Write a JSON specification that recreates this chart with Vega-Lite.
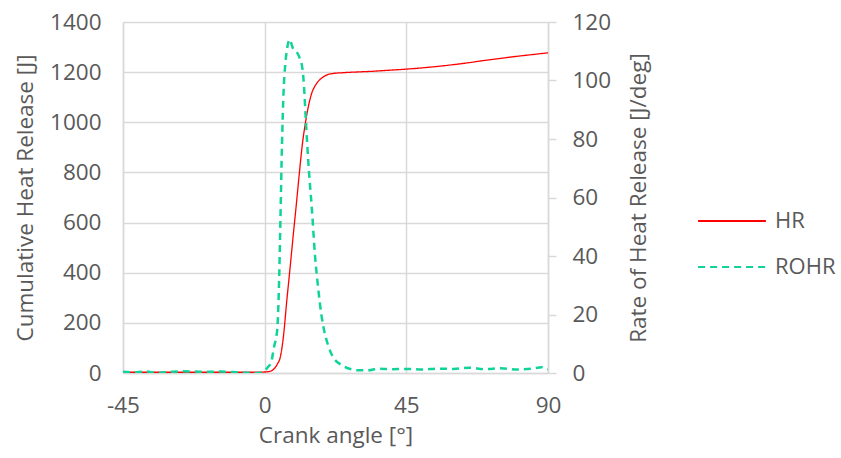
{
  "$schema": "https://vega.github.io/schema/vega-lite/v6.json",
  "width": 425,
  "height": 351,
  "autosize": {"type": "none"},
  "padding": {"left": 123, "top": 22, "right": 293, "bottom": 85},
  "background": "white",
  "config": {
    "font": "Open Sans",
    "view": {"stroke": null},
    "axis": {
      "labelFont": "Open Sans",
      "titleFont": "Open Sans",
      "labelFontSize": 22.5,
      "titleFontSize": 22.5,
      "labelColor": "#595959",
      "titleColor": "#595959",
      "titleFontWeight": "normal",
      "domainColor": "#d9d9d9",
      "domainWidth": 1.5,
      "gridColor": "#d9d9d9",
      "gridWidth": 1.5,
      "tickColor": "#d9d9d9",
      "tickWidth": 1.5
    },
    "legend": {
      "labelFont": "Open Sans",
      "labelFontSize": 22,
      "labelColor": "#595959"
    }
  },
  "data": {
    "values": [
      {"angle": -45, "value": 3, "series": "HR"},
      {"angle": -30, "value": 3, "series": "HR"},
      {"angle": -15, "value": 3, "series": "HR"},
      {"angle": -5, "value": 3, "series": "HR"},
      {"angle": 0, "value": 4, "series": "HR"},
      {"angle": 1, "value": 5, "series": "HR"},
      {"angle": 2, "value": 8, "series": "HR"},
      {"angle": 3, "value": 17, "series": "HR"},
      {"angle": 4, "value": 35, "series": "HR"},
      {"angle": 5, "value": 65, "series": "HR"},
      {"angle": 6, "value": 150, "series": "HR"},
      {"angle": 7, "value": 285, "series": "HR"},
      {"angle": 8, "value": 410, "series": "HR"},
      {"angle": 9, "value": 540, "series": "HR"},
      {"angle": 10, "value": 665, "series": "HR"},
      {"angle": 11, "value": 795, "series": "HR"},
      {"angle": 12, "value": 915, "series": "HR"},
      {"angle": 13, "value": 1002, "series": "HR"},
      {"angle": 14, "value": 1070, "series": "HR"},
      {"angle": 15, "value": 1118, "series": "HR"},
      {"angle": 16, "value": 1145, "series": "HR"},
      {"angle": 17, "value": 1163, "series": "HR"},
      {"angle": 18, "value": 1175, "series": "HR"},
      {"angle": 19, "value": 1184, "series": "HR"},
      {"angle": 20, "value": 1190, "series": "HR"},
      {"angle": 22, "value": 1195, "series": "HR"},
      {"angle": 25, "value": 1198, "series": "HR"},
      {"angle": 30, "value": 1201, "series": "HR"},
      {"angle": 35, "value": 1204, "series": "HR"},
      {"angle": 40, "value": 1208, "series": "HR"},
      {"angle": 45, "value": 1212, "series": "HR"},
      {"angle": 50, "value": 1217, "series": "HR"},
      {"angle": 55, "value": 1223, "series": "HR"},
      {"angle": 60, "value": 1230, "series": "HR"},
      {"angle": 65, "value": 1238, "series": "HR"},
      {"angle": 70, "value": 1247, "series": "HR"},
      {"angle": 75, "value": 1255, "series": "HR"},
      {"angle": 80, "value": 1263, "series": "HR"},
      {"angle": 85, "value": 1270, "series": "HR"},
      {"angle": 90, "value": 1277, "series": "HR"},
      {"angle": -45, "value": 0.4, "series": "ROHR"},
      {"angle": -42, "value": 0.2, "series": "ROHR"},
      {"angle": -38, "value": 0.5, "series": "ROHR"},
      {"angle": -34, "value": 0.1, "series": "ROHR"},
      {"angle": -30, "value": 0.4, "series": "ROHR"},
      {"angle": -26, "value": 0.6, "series": "ROHR"},
      {"angle": -22, "value": 0.5, "series": "ROHR"},
      {"angle": -18, "value": 0.4, "series": "ROHR"},
      {"angle": -14, "value": 0.5, "series": "ROHR"},
      {"angle": -10, "value": 0.3, "series": "ROHR"},
      {"angle": -6, "value": 0.1, "series": "ROHR"},
      {"angle": -3, "value": 0.0, "series": "ROHR"},
      {"angle": -1, "value": 0.2, "series": "ROHR"},
      {"angle": 0, "value": 0.8, "series": "ROHR"},
      {"angle": 1, "value": 2, "series": "ROHR"},
      {"angle": 2, "value": 3.5, "series": "ROHR"},
      {"angle": 3, "value": 9, "series": "ROHR"},
      {"angle": 4, "value": 15, "series": "ROHR"},
      {"angle": 4.5, "value": 28, "series": "ROHR"},
      {"angle": 5, "value": 52, "series": "ROHR"},
      {"angle": 5.5, "value": 78, "series": "ROHR"},
      {"angle": 6, "value": 96, "series": "ROHR"},
      {"angle": 6.5, "value": 105, "series": "ROHR"},
      {"angle": 7, "value": 110, "series": "ROHR"},
      {"angle": 7.5, "value": 113, "series": "ROHR"},
      {"angle": 8, "value": 114, "series": "ROHR"},
      {"angle": 8.5, "value": 112.5, "series": "ROHR"},
      {"angle": 9, "value": 111, "series": "ROHR"},
      {"angle": 10, "value": 110, "series": "ROHR"},
      {"angle": 11, "value": 108, "series": "ROHR"},
      {"angle": 12, "value": 104, "series": "ROHR"},
      {"angle": 12.5, "value": 98, "series": "ROHR"},
      {"angle": 13, "value": 88, "series": "ROHR"},
      {"angle": 14, "value": 70, "series": "ROHR"},
      {"angle": 15, "value": 56, "series": "ROHR"},
      {"angle": 16, "value": 40, "series": "ROHR"},
      {"angle": 17, "value": 29, "series": "ROHR"},
      {"angle": 18, "value": 20, "series": "ROHR"},
      {"angle": 19, "value": 14, "series": "ROHR"},
      {"angle": 20, "value": 10, "series": "ROHR"},
      {"angle": 21, "value": 7, "series": "ROHR"},
      {"angle": 22, "value": 5, "series": "ROHR"},
      {"angle": 24, "value": 3, "series": "ROHR"},
      {"angle": 26, "value": 1.8, "series": "ROHR"},
      {"angle": 28, "value": 1.2, "series": "ROHR"},
      {"angle": 30, "value": 0.9, "series": "ROHR"},
      {"angle": 33, "value": 0.9, "series": "ROHR"},
      {"angle": 36, "value": 1.5, "series": "ROHR"},
      {"angle": 40, "value": 1.3, "series": "ROHR"},
      {"angle": 45, "value": 1.4, "series": "ROHR"},
      {"angle": 50, "value": 1.2, "series": "ROHR"},
      {"angle": 55, "value": 1.5, "series": "ROHR"},
      {"angle": 60, "value": 1.4, "series": "ROHR"},
      {"angle": 65, "value": 1.8, "series": "ROHR"},
      {"angle": 70, "value": 1.3, "series": "ROHR"},
      {"angle": 75, "value": 1.6, "series": "ROHR"},
      {"angle": 80, "value": 1.2, "series": "ROHR"},
      {"angle": 85, "value": 1.5, "series": "ROHR"},
      {"angle": 88, "value": 2.0, "series": "ROHR"},
      {"angle": 90, "value": 1.2, "series": "ROHR"}
    ]
  },
  "encoding": {
    "x": {
      "field": "angle",
      "type": "quantitative",
      "scale": {"domain": [-45, 90], "nice": false, "zero": false},
      "axis": {
        "values": [-45, 0, 45, 90],
        "labelExpr": "'' + datum.value",
        "title": "Crank angle [°]",
        "ticks": false,
        "labelFlush": false,
        "labelPadding": 21,
        "titlePadding": 8
      }
    },
    "color": {
      "field": "series",
      "type": "nominal",
      "scale": {"domain": ["HR", "ROHR"], "range": ["#ff0000", "#10d39a"]},
      "legend": {
        "title": null,
        "orient": "none",
        "legendX": 574,
        "legendY": 164,
        "symbolType": "stroke",
        "symbolSize": 4600,
        "symbolStrokeWidth": 2,
        "rowPadding": -25,
        "labelOffset": 8
      }
    },
    "strokeDash": {
      "field": "series",
      "type": "nominal",
      "scale": {"domain": ["HR", "ROHR"], "range": [[1, 0], [7, 5]]},
      "legend": {
        "title": null,
        "orient": "none",
        "legendX": 574,
        "legendY": 164,
        "symbolType": "stroke",
        "symbolSize": 4600,
        "symbolStrokeWidth": 2,
        "rowPadding": -25,
        "labelOffset": 8
      }
    }
  },
  "layer": [
    {
      "transform": [{"filter": "datum.series == 'HR'"}],
      "mark": {"type": "line", "strokeWidth": 1.3, "interpolate": "monotone"},
      "encoding": {
        "y": {
          "field": "value",
          "type": "quantitative",
          "scale": {"domain": [0, 1400], "nice": false},
          "axis": {
            "orient": "left",
            "values": [0, 200, 400, 600, 800, 1000, 1200, 1400],
            "format": "d",
            "title": "Cumulative Heat Release [J]",
            "ticks": false,
            "labelPadding": 22,
            "titlePadding": 12,
            "grid": true
          }
        }
      }
    },
    {
      "transform": [{"filter": "datum.series == 'ROHR'"}],
      "mark": {"type": "line", "strokeWidth": 2.5, "interpolate": "monotone", "clip": true},
      "encoding": {
        "y": {
          "field": "value",
          "type": "quantitative",
          "scale": {"domain": [0, 120], "nice": false},
          "axis": {
            "orient": "right",
            "values": [0, 20, 40, 60, 80, 100, 120],
            "title": "Rate of Heat Release [J/deg]",
            "titleAngle": 270,
            "titleBaseline": "top",
            "tickSize": 8,
            "labelPadding": 16,
            "titlePadding": 17,
            "grid": false
          }
        }
      }
    }
  ],
  "resolve": {"scale": {"y": "independent"}}
}
